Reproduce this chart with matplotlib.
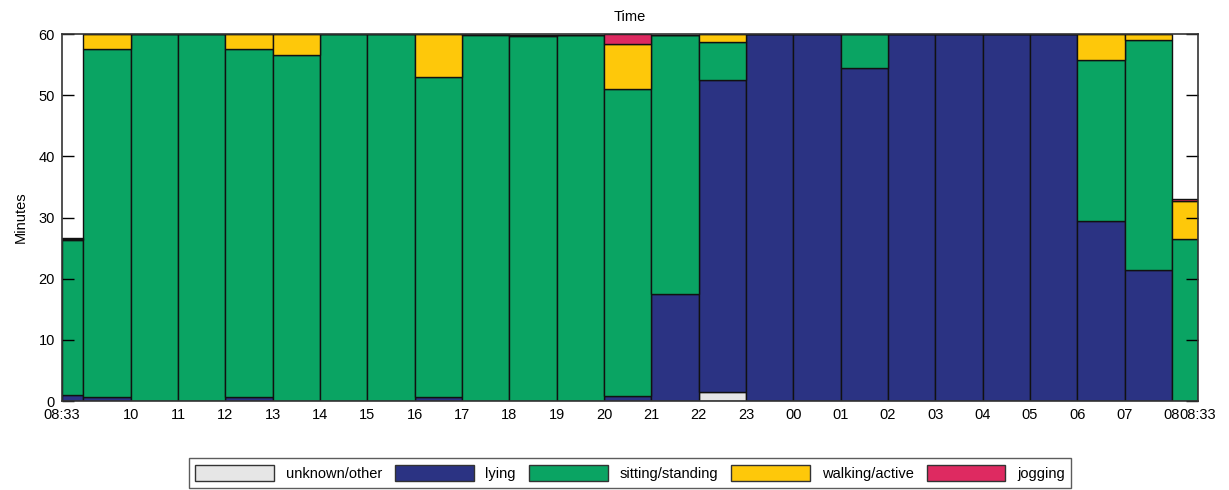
import matplotlib
matplotlib.use("Agg")
import matplotlib.pyplot as plt
from matplotlib.patches import Patch
import numpy as np

plt.rcParams['font.family'] = ['Liberation Sans', 'DejaVu Sans']

# bin start times (clock) ; the chart runs from 08:33 to 08:33 next day
bin_starts = ["08:33", "09:00", "10:00", "11:00", "12:00", "13:00", "14:00", "15:00",
              "16:00", "17:00", "18:00", "19:00", "20:00", "21:00", "22:00", "23:00",
              "00:00", "01:00", "02:00", "03:00", "04:00", "05:00", "06:00", "07:00",
              "08:00"]
end_time = "08:33"

unknown = [0, 0, 0, 0, 0, 0, 0, 0, 0, 0, 0, 0, 0, 0, 1.4, 0,
           0, 0, 0, 0, 0, 0, 0, 0, 0]
lying = [1.0, 0.6, 0, 0, 0.6, 0, 0, 0, 0.6, 0, 0, 0, 0.8, 17.5, 51.1, 60,
         60, 54.4, 60, 60, 60, 60, 29.4, 21.4, 0]
sitting = [25.3, 57.0, 60, 60, 56.9, 56.5, 60, 60, 52.3, 59.8, 59.6, 59.8, 50.2, 42.3, 6.2, 0,
           0, 5.6, 0, 0, 0, 0, 26.3, 37.7, 26.5]
walking = [0.15, 2.4, 0, 0, 2.5, 3.5, 0, 0, 7.1, 0.2, 0.3, 0, 7.3, 0, 1.3, 0,
           0, 0, 0, 0, 0, 0, 4.3, 0.9, 6.2]
jogging = [0.15, 0, 0, 0, 0, 0, 0, 0, 0, 0, 0, 0, 1.7, 0, 0, 0,
           0, 0, 0, 0, 0, 0, 0, 0, 0.3]

categories = ["unknown/other", "lying", "sitting/standing", "walking/active", "jogging"]
colors = ["#e6e6e6", "#2b3383", "#0aa463", "#fec80a", "#de2a61"]

xtick_labels = ["08:33", "10", "11", "12", "13", "14", "15", "16", "17", "18", "19", "20",
                "21", "22", "23", "00", "01", "02", "03", "04", "05", "06", "07", "08", "08:33"]


def to_min(s):
    h, m = map(int, s.split(":"))
    t = h * 60 + m - (8 * 60 + 33)
    return t % 1440


starts = np.array([to_min(s) for s in bin_starts], dtype=float)
ends = np.append(starts[1:], 1440.0)
widths = ends - starts

fig = plt.figure(figsize=(12.29, 4.9), dpi=100)
ax = fig.add_axes([62 / 1229, 1 - 401 / 490, (1198 - 62) / 1229, (401 - 34) / 490])

series = [unknown, lying, sitting, walking, jogging]
bottom = np.zeros(len(starts))
for vals, col in zip(series, colors):
    v = np.array(vals, dtype=float)
    ax.bar(starts, v, width=widths, bottom=bottom, align='edge', color=col,
           edgecolor='#111111', linewidth=1.0)
    bottom += v

ax.set_xlim(0, 1440)
ax.set_ylim(0, 60)
tick_pos = [0] + [to_min(s) for s in bin_starts[2:]] + [1440]
ax.set_xticks(tick_pos)
ax.set_xticklabels(xtick_labels, fontsize=10.5)
ax.set_yticks(range(0, 61, 10))
ax.tick_params(axis='y', direction='in', length=8.5, width=1.0, left=True, right=True,
               labelsize=10.5, pad=5)
ax.tick_params(axis='x', direction='in', length=0, pad=5)
for sp in ax.spines.values():
    sp.set_color('#333333')
    sp.set_linewidth(1.2)

ax.set_title("Time", fontsize=10.5, pad=9.5)
ax.set_ylabel("Minutes", fontsize=10.5, labelpad=8)

handles = [Patch(facecolor=c, edgecolor='#333333', linewidth=1.0) for c in colors]
leg = fig.legend(handles, categories, loc='center', bbox_to_anchor=(630 / 1229, 1 - 473 / 490),
                 ncol=5, fontsize=10.5, frameon=True, fancybox=False, handlelength=5.4,
                 handleheight=1.35, handletextpad=0.8, columnspacing=0.9, borderpad=0.45,
                 edgecolor='#333333')
leg.get_frame().set_linewidth(1.0)

fig.savefig("out.png", dpi=100)
